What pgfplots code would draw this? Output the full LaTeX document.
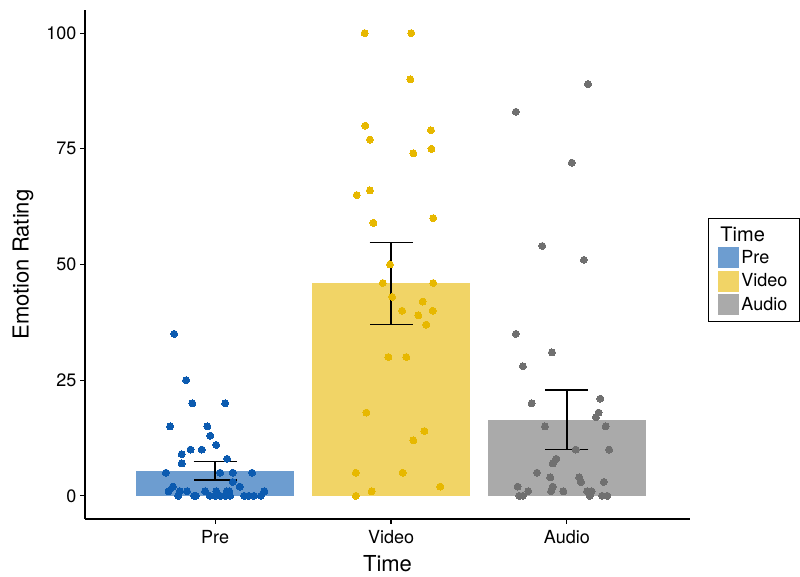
\documentclass[border=0pt]{standalone}
\usepackage{pgfplots}
\pgfplotsset{compat=1.18}
\usepackage{fontspec}
\setmainfont{TeX Gyre Heros}
\definecolor{prept}{RGB}{12,91,176}
\definecolor{prebar}{RGB}{109,157,208}
\definecolor{vidpt}{RGB}{231,184,0}
\definecolor{vidbar}{RGB}{241,212,102}
\definecolor{audpt}{RGB}{112,112,112}
\definecolor{audbar}{RGB}{170,170,170}
\begin{document}
\begin{tikzpicture}
\useasboundingbox (0pt,0pt) rectangle (800pt,577pt);
\begin{axis}[
  at={(85pt,58pt)}, anchor=south west,
  width=605pt, height=509pt, scale only axis,
  xmin=0.26, xmax=3.70, ymin=-5, ymax=105,
  axis lines=left,
  axis line style={-, line width=1.2pt, black},
  xtick={1,2,3}, xticklabels={Pre,Video,Audio},
  ytick={0,25,50,75,100},
  tick align=outside, major tick length=5pt,
  tick style={line width=1.1pt, black},
  /pgf/number format/assume math mode=true,
  ticklabel style={font=\fontsize{18}{20}\selectfont},
  xticklabel style={yshift=-3pt},
  xlabel={Time}, ylabel={Emotion Rating},
  every axis y label/.style={at={(axis description cs:-0.1025,0.5)}, rotate=90, anchor=center, font=\fontsize{22}{24}\selectfont},
  every axis x label/.style={at={(axis description cs:0.5,-0.0884)}, anchor=center, font=\fontsize{22}{24}\selectfont},
  legend cell align=left,
  legend style={at={(rel axis cs:1.0298,0.591)}, anchor=north west,
    draw=black, line width=0.8pt, font=\fontsize{18}{20}\selectfont,
    inner xsep=10pt, inner ysep=6pt, row sep=2.5pt, column sep=0pt},
]
\addlegendimage{empty legend}
\addlegendentry{\hspace*{-21pt}\fontsize{20}{22}\selectfont Time}
\addplot[ybar, bar width=0.9, bar shift=0pt, fill=prebar, draw=none,
  legend image code/.code={\fill[prebar] (0pt,-10.5pt) rectangle (21pt,10.5pt);}]
  coordinates {(1,5.4)};
\addlegendentry{Pre}
\addplot[ybar, bar width=0.9, bar shift=0pt, fill=vidbar, draw=none,
  legend image code/.code={\fill[vidbar] (0pt,-10.5pt) rectangle (21pt,10.5pt);}]
  coordinates {(2,46)};
\addlegendentry{Video}
\addplot[ybar, bar width=0.9, bar shift=0pt, fill=audbar, draw=none,
  legend image code/.code={\fill[audbar] (0pt,-10.5pt) rectangle (21pt,10.5pt);}]
  coordinates {(3,16.5)};
\addlegendentry{Audio}
% jittered points
\addplot[forget plot, only marks, mark=*, mark size=3.5pt, color=prept, mark options={fill=prept, draw=prept, line width=0pt}]
 coordinates {
 (0.767,35) (0.835,25) (0.87,20) (1.057,20) (0.744,15) (0.956,15) (0.972,13)
 (1.006,11) (0.86,10) (0.924,10) (0.81,9) (1.068,8) (0.81,7) (0.72,5) (1.028,5)
 (1.10,5) (1.21,5) (1.10,3) (1.14,2) (0.76,2) (0.735,1) (0.80,1) (0.84,1)
 (0.943,1) (1.006,1) (1.066,1) (1.08,1) (1.28,1) (0.79,0) (0.88,0) (0.89,0) (0.97,0)
 (1.0,0) (1.03,0) (1.06,0) (1.085,0) (1.165,0) (1.19,0) (1.22,0) (1.26,0)
 };
\addplot[forget plot, only marks, mark=*, mark size=3.5pt, color=vidpt, mark options={fill=vidpt, draw=vidpt, line width=0pt}]
 coordinates {
 (1.85,100) (2.115,100) (2.11,90) (1.854,80) (2.227,79) (1.88,77) (2.23,75)
 (2.127,74) (1.88,66) (1.805,65) (2.24,60) (1.90,59) (1.994,50) (1.953,46)
 (2.24,46) (2.006,43) (2.18,42) (2.063,40) (2.155,39) (2.237,40) (2.2,37)
 (1.985,30) (2.087,30) (1.86,18) (2.19,14) (2.127,12) (1.80,5) (2.066,5)
 (2.28,2) (1.89,1) (1.80,0)
 };
\addplot[forget plot, only marks, mark=*, mark size=3.5pt, color=audpt, mark options={fill=audpt, draw=audpt, line width=0pt}]
 coordinates {
 (3.12,89) (2.71,83) (3.028,72) (2.86,54) (3.097,51) (2.71,35) (2.915,31)
 (2.75,28) (3.19,21) (2.8,20) (3.18,18) (3.165,17) (2.875,15) (3.22,15)
 (3.05,10) (3.24,10) (2.94,8) (2.92,7) (2.83,5) (2.905,4) (3.07,4) (3.08,3)
 (3.21,3) (2.72,2) (2.92,2) (2.78,1) (2.91,1) (2.98,1) (3.115,1) (3.14,1)
 (2.73,0) (2.75,0) (3.13,0) (3.2,0) (3.23,0)
 };
% error bars
\addplot[forget plot, draw=none, mark=none,
  error bars/.cd, y dir=both, y explicit,
  error bar style={draw=black, line width=1.3pt},
  error mark options={draw=black, rotate=90, mark size=21.5pt, line width=1.3pt}]
 coordinates {
 (1,5.4) += (0,2.0) -= (0,2.0)
 (2,46) += (0,8.8) -= (0,8.9)
 (3,16.5) += (0,6.4) -= (0,6.5)
 };
\end{axis}
\end{tikzpicture}
\end{document}
